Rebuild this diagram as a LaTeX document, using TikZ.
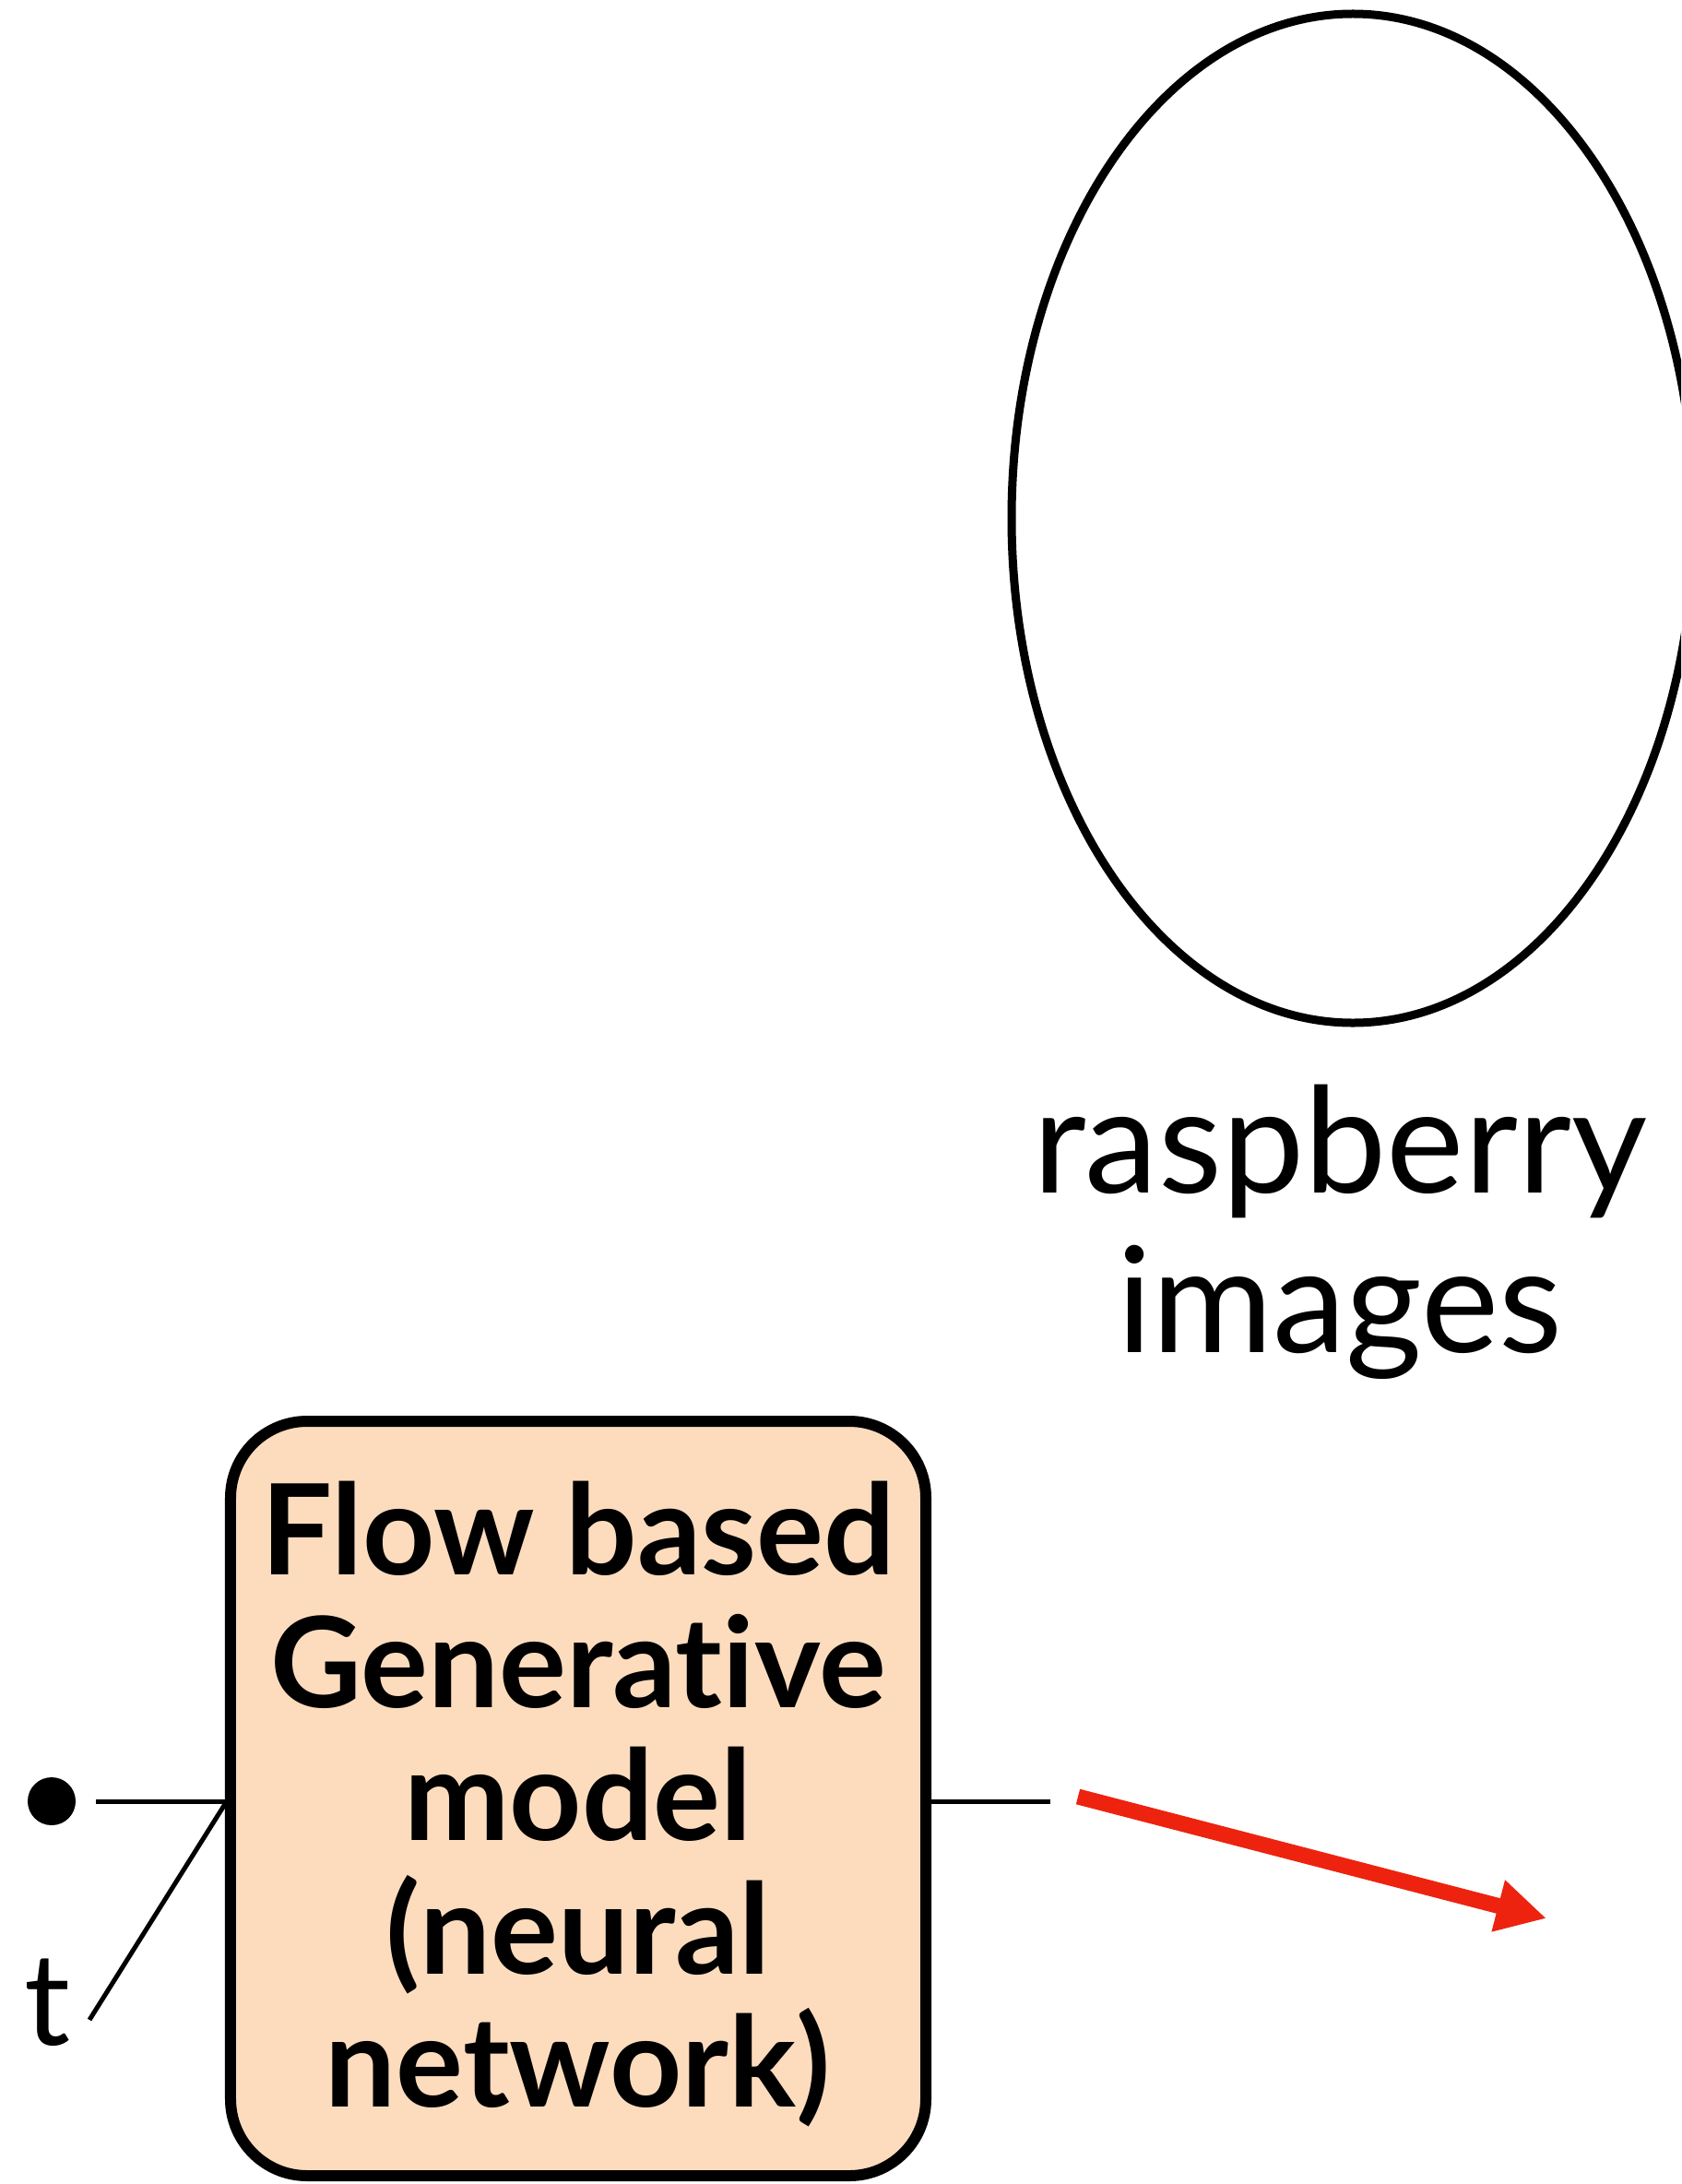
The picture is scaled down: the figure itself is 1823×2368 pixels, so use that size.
\documentclass[tikz,border=0pt]{standalone}
\usepackage{fontspec}
\setmainfont{Lato}[Ligatures={NoCommon,NoDiscretionary,NoRare}]
\usetikzlibrary{arrows.meta,shapes.geometric}
\definecolor{peach}{RGB}{253,220,190}
\definecolor{arrowred}{RGB}{237,35,15}
\begin{document}
\begin{tikzpicture}[x=1bp,y=-1bp,
  setshape/.style={draw=black, line width=9bp, ellipse, minimum width=740bp, minimum height=1094bp, inner sep=0pt},
  caption/.style={font=\fontsize{160}{174}\selectfont, align=center, inner sep=0pt},
  modelbox/.style={draw=black, fill=peach, line width=12bp, rounded corners=83bp, minimum width=754bp, minimum height=818bp, inner sep=0pt},
  boxtext/.style={font=\bfseries\fontsize{137}{145}\selectfont, align=center, inner sep=0pt},
  wire/.style={line width=5bp},
  flowarrow/.style={draw=arrowred, line width=17bp, -{Triangle[length=54bp,width=54bp]}},
  inputdot/.style={circle, fill=black, minimum size=52bp, inner sep=0pt},
  tlabel/.style={font=\fontsize{140}{150}\selectfont, inner sep=0pt, anchor=base}
]
\useasboundingbox (0,0) rectangle (1823,2368);
\clip (0,0) rectangle (1823,2368);
\fill[white] (0,0) rectangle (1823,2368);

\node[setshape] (set) at (1467,562) {};
\node[caption] (caption) at (1453,1336) {raspberry\\images};

\node[inputdot] (dot) at (56,1953) {};
\node[tlabel] (t) at (52,2217) {t};
\coordinate (tend) at (97,2190);
\coordinate (outend) at (1139,1953);
\coordinate (arrstart) at (1169,1948);
\coordinate (arrtip) at (1677,2080);

\node[modelbox] (box) at (627,1950) {};
\node[boxtext] (boxlabel) at ([yshift=-6bp]box.center) {Flow based\\Generative\\model\\(neural\\network)};

\draw[wire] ([xshift=22bp]dot.east) -- (box.west |- dot.center);
\draw[wire] (tend) -- ([yshift=-6bp]box.west);
\draw[wire] (box.east |- dot.center) -- (outend);
\draw[flowarrow] (arrstart) -- (arrtip);
\end{tikzpicture}
\end{document}
